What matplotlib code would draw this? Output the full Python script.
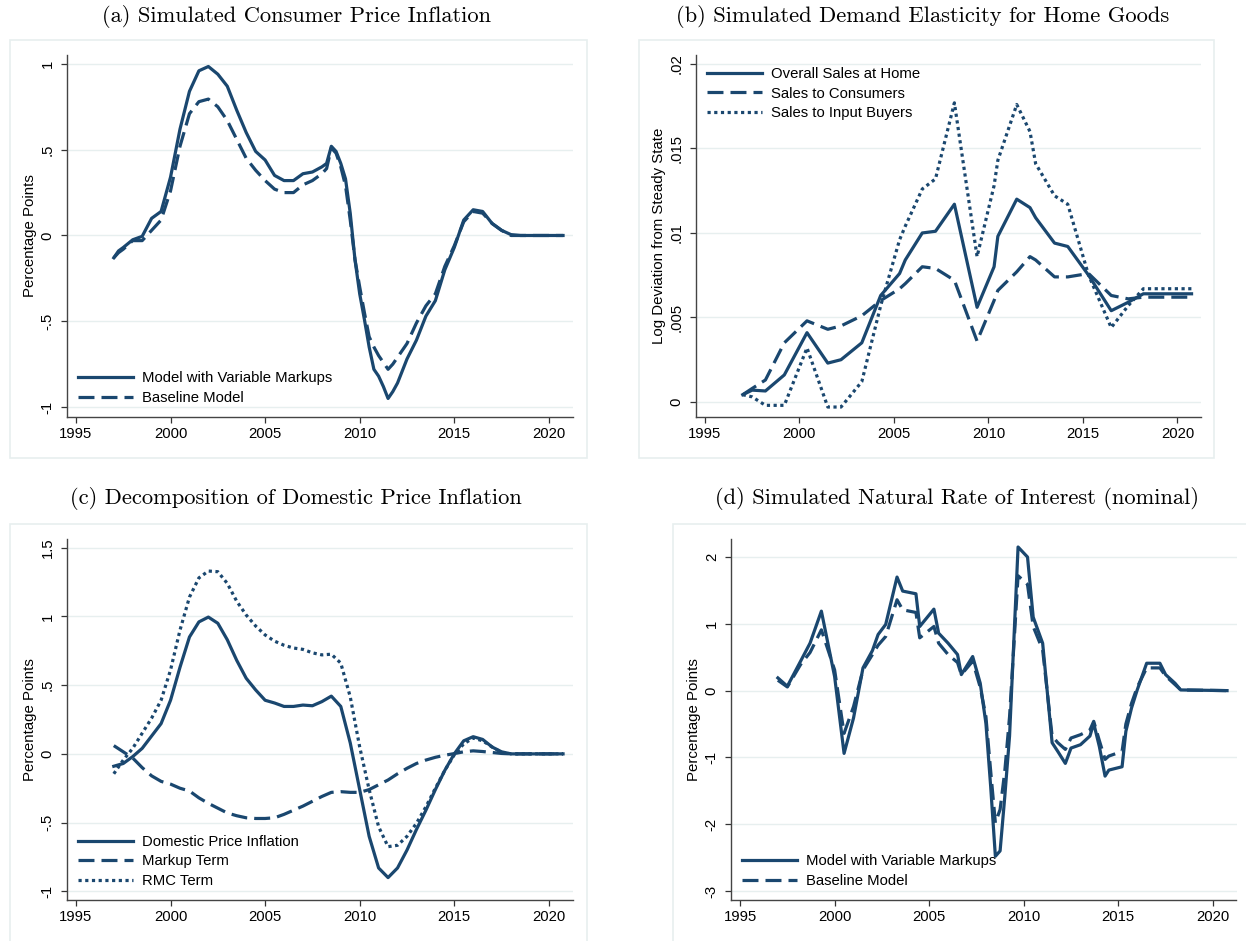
import matplotlib
matplotlib.use("Agg")
import matplotlib.pyplot as plt
from matplotlib.patches import Rectangle
import numpy as np

plt.rcParams["font.family"] = ["Liberation Sans", "DejaVu Sans"]

# ---- data ----
yrs_a = [1997, 1997.25, 1997.5, 1998, 1998.5, 1999, 1999.5,
         2000, 2000.5, 2001, 2001.5, 2002, 2002.5, 2003, 2003.5, 2004, 2004.5,
         2005, 2005.5, 2006, 2006.5, 2007, 2007.5, 2008,
         2008.25, 2008.5, 2008.75, 2009, 2009.25, 2009.5, 2009.75, 2010,
         2010.25, 2010.5, 2010.75, 2011, 2011.25, 2011.5, 2011.75, 2012,
         2012.5, 2013, 2013.5, 2014, 2014.5, 2015, 2015.5, 2016, 2016.5, 2017, 2017.5, 2018,
         2018.5, 2019, 2020, 2020.75]
cpi_markups = [-0.13, -0.09, -0.07, -0.025, -0.005, 0.10, 0.14,
               0.34, 0.62, 0.84, 0.96, 0.985, 0.94, 0.87, 0.73, 0.60, 0.49,
               0.44, 0.35, 0.32, 0.32, 0.36, 0.37, 0.40,
               0.42, 0.52, 0.49, 0.42, 0.33, 0.13, -0.14, -0.34,
               -0.49, -0.65, -0.78, -0.82, -0.88, -0.95, -0.91, -0.86,
               -0.72, -0.61, -0.47, -0.38, -0.20, -0.07, 0.09, 0.15, 0.14, 0.07, 0.03, 0.005,
               0.0, 0.0, 0.0, 0.0]
cpi_baseline = [-0.13, -0.10, -0.08, -0.03, -0.03, 0.03, 0.09,
                0.26, 0.52, 0.71, 0.78, 0.795, 0.75, 0.67, 0.56, 0.45, 0.38,
                0.32, 0.27, 0.25, 0.25, 0.295, 0.32, 0.36,
                0.39, 0.51, 0.48, 0.40, 0.29, 0.09, -0.14, -0.30,
                -0.45, -0.59, -0.65, -0.70, -0.74, -0.78, -0.75, -0.71,
                -0.63, -0.51, -0.41, -0.34, -0.18, -0.06, 0.08, 0.14, 0.13, 0.07, 0.03, 0.0,
                0.0, 0.0, 0.0, 0.0]

yrs_b = [1997, 1997.5, 1998.2, 1999.2, 2000.4, 2001.5, 2002.2, 2003.3, 2004.3,
         2005.3, 2005.6, 2006.5, 2007.2, 2008.2, 2009.4, 2010.3, 2010.5, 2011.5,
         2012.2, 2012.5, 2013.5, 2014.2, 2015.3, 2016.5, 2017.4, 2018.2, 2020.75]
elas_overall = [0.00043, 0.0007, 0.00065, 0.0016, 0.0041, 0.0023, 0.0025, 0.0035, 0.0063,
                0.0076, 0.0084, 0.0100, 0.0101, 0.0117, 0.0056, 0.0080, 0.0098, 0.0120,
                0.0115, 0.0109, 0.0094, 0.0092, 0.0075, 0.0054, 0.0059, 0.0064, 0.0064]
elas_consumers = [0.00043, 0.0008, 0.0013, 0.0035, 0.0048, 0.0043, 0.0045, 0.0051, 0.0060,
                  0.0067, 0.0070, 0.0080, 0.0079, 0.0072, 0.0036, 0.0060, 0.0066, 0.0077,
                  0.0086, 0.0084, 0.0074, 0.0074, 0.0076, 0.0063, 0.0061, 0.0062, 0.0062]
elas_inputs = [0.00043, 0.0003, -0.0002, -0.0002, 0.0032, -0.0003, -0.0003, 0.0012, 0.0057,
               0.0096, 0.0104, 0.0126, 0.0132, 0.0177, 0.0086, 0.0128, 0.0143, 0.0176,
               0.0160, 0.0141, 0.0122, 0.0117, 0.0075, 0.0044, 0.0057, 0.0067, 0.0067]

yrs_c = list(np.arange(1997, 2018.01, 0.5)) + [2019, 2020, 2020.75]
dom_infl = [-0.09, -0.07, -0.02, 0.04, 0.13, 0.22,
            0.39, 0.63, 0.85, 0.96, 0.995, 0.95, 0.83, 0.68, 0.55, 0.465,
            0.39, 0.37, 0.345, 0.345, 0.355, 0.35, 0.38, 0.42, 0.345, 0.08,
            -0.26, -0.60, -0.83, -0.90, -0.83, -0.70, -0.55, -0.41, -0.26, -0.12,
            0.0, 0.095, 0.125, 0.105, 0.05, 0.015, 0.0, 0.0, 0.0, 0.0]
markup_term = [0.06, 0.015, -0.03, -0.10, -0.16, -0.20,
               -0.22, -0.25, -0.27, -0.32, -0.36, -0.395, -0.43, -0.45, -0.465, -0.47,
               -0.47, -0.465, -0.44, -0.41, -0.38, -0.345, -0.31, -0.28, -0.275, -0.28,
               -0.28, -0.26, -0.225, -0.19, -0.145, -0.105, -0.07, -0.045, -0.025, -0.01,
               0.002, 0.015, 0.022, 0.017, 0.01, 0.003, 0.0, 0.0, 0.0, 0.0]
rmc_term = [-0.145, -0.045, 0.04, 0.15, 0.26, 0.39,
            0.61, 0.90, 1.14, 1.28, 1.33, 1.325, 1.24, 1.11, 1.01, 0.93,
            0.865, 0.82, 0.79, 0.77, 0.76, 0.735, 0.72, 0.725, 0.66, 0.415,
            0.05, -0.26, -0.53, -0.675, -0.665, -0.60, -0.505, -0.385, -0.25, -0.12,
            -0.007, 0.073, 0.115, 0.095, 0.05, 0.01, 0.0, 0.0, 0.0, 0.0]

yrs_d = [1997, 1997.5, 1998.2, 1998.7, 1999.3, 2000, 2000.5, 2001, 2001.5, 2002,
         2002.3, 2002.7, 2003.3, 2003.6, 2004.3, 2004.5, 2005.25, 2005.5, 2006, 2006.5,
         2006.7, 2007.3, 2007.7, 2008, 2008.25, 2008.5, 2008.75, 2009, 2009.25, 2009.7,
         2010.2, 2010.5, 2011, 2011.5, 2011.8, 2012.2, 2012.5, 2013, 2013.5, 2013.7,
         2014, 2014.3, 2014.5, 2015.2, 2015.4, 2015.7, 2016, 2016.5, 2017.2, 2017.5,
         2018, 2018.3, 2020.75]
rate_markups = [0.19, 0.065, 0.44, 0.71, 1.19, 0.21, -0.94, -0.41, 0.34, 0.60,
                0.84, 0.99, 1.70, 1.49, 1.45, 0.96, 1.22, 0.86, 0.71, 0.54,
                0.24, 0.51, 0.11, -0.49, -1.43, -2.48, -2.40, -1.58, -0.68, 2.15,
                2.00, 1.10, 0.71, -0.78, -0.91, -1.09, -0.86, -0.81, -0.68, -0.49,
                -0.84, -1.28, -1.19, -1.14, -0.61, -0.26, 0.01, 0.41, 0.41, 0.24,
                0.11, 0.01, 0.0]
rate_baseline = [0.155, 0.055, 0.39, 0.57, 0.91, 0.31, -0.64, -0.24, 0.31, 0.54,
                 0.68, 0.81, 1.36, 1.21, 1.17, 0.79, 0.96, 0.71, 0.54, 0.42,
                 0.24, 0.44, 0.05, -0.39, -1.20, -1.98, -1.78, -1.20, -0.39, 1.72,
                 1.59, 0.96, 0.61, -0.68, -0.78, -0.88, -0.71, -0.66, -0.59, -0.46,
                 -0.75, -1.03, -0.98, -0.91, -0.50, -0.19, 0.05, 0.34, 0.34, 0.22,
                 0.09, 0.01, 0.0]

NAVY = "#1a476f"
GRID = "#e7efef"
W, H = 1246, 941

fig = plt.figure(figsize=(W / 100, H / 100), dpi=100)


def box(x0, y0, x1, y1):
    r = Rectangle((x0 / W, 1 - y1 / H), (x1 - x0) / W, (y1 - y0) / H,
                  transform=fig.transFigure, fill=False, edgecolor=GRID, lw=1.2)
    fig.add_artist(r)


def make_ax(left, right, top, bottom, yticks, ylabels, ylim, ylabel, title, tx, ty):
    ax = fig.add_axes([left / W, 1 - bottom / H, (right - left) / W, (bottom - top) / H])
    ax.set_xlim(1994.5, 2021.25)
    ax.set_ylim(*ylim)
    ax.set_xticks([1995, 2000, 2005, 2010, 2015, 2020])
    ax.set_yticks(yticks)
    ax.set_yticklabels(ylabels, rotation=90, va="center")
    ax.tick_params(axis="both", direction="out", length=4.5, width=0.9,
                   colors="#333333", labelcolor="black", labelsize=10.7)
    ax.tick_params(axis="x", pad=3)
    ax.tick_params(axis="y", pad=4)
    for s in ["top", "right"]:
        ax.spines[s].set_visible(False)
    for s in ["left", "bottom"]:
        ax.spines[s].set_color("#444444")
        ax.spines[s].set_linewidth(1.0)
    ax.grid(axis="y", color=GRID, lw=1.0)
    ax.set_axisbelow(True)
    ax.set_ylabel(ylabel, fontsize=10.8, labelpad=3)
    fig.text(tx / W, 1 - ty / H, title, family="cmr10", fontsize=16.2,
             ha="center", va="center")
    return ax


def add_legend(ax, loc):
    ax.legend(loc=loc, frameon=False, fontsize=10.7, handlelength=3.7,
              handletextpad=0.6, labelspacing=0.38, borderaxespad=0.4)


dash = (0, (5, 2.2))
dot = (0, (1, 1.1))
lw = 2.3

# (a)
box(10, 40, 587, 458)
ax = make_ax(66.5, 572.5, 55, 417, [-1, -0.5, 0, 0.5, 1], ["-1", "-.5", "0", ".5", "1"],
             (-1.058, 1.052), "Percentage Points",
             "(a) Simulated Consumer Price Inflation", 296, 16)
ax.plot(yrs_a, cpi_markups, color=NAVY, lw=lw, label="Model with Variable Markups")
ax.plot(yrs_a, cpi_baseline, color=NAVY, lw=lw, ls=dash, label="Baseline Model")
add_legend(ax, "lower left")

# (b)
box(639, 40, 1214, 458)
ax = make_ax(695.5, 1201, 55, 417, [0, 0.005, 0.01, 0.015, 0.02],
             ["0", ".005", ".01", ".015", ".02"], (-0.00089, 0.02053),
             "Log Deviation from Steady State",
             "(b) Simulated Demand Elasticity for Home Goods", 923, 16)
ax.plot(yrs_b, elas_overall, color=NAVY, lw=lw, label="Overall Sales at Home")
ax.plot(yrs_b, elas_consumers, color=NAVY, lw=lw, ls=dash, label="Sales to Consumers")
ax.plot(yrs_b, elas_inputs, color=NAVY, lw=lw, ls=dot, label="Sales to Input Buyers")
add_legend(ax, "upper left")

# (c)
box(10, 524, 587, 960)
ax = make_ax(66.5, 572.5, 539, 900, [-1, -0.5, 0, 0.5, 1, 1.5],
             ["-1", "-.5", "0", ".5", "1", "1.5"], (-1.063, 1.563), "Percentage Points",
             "(c) Decomposition of Domestic Price Inflation", 296, 499)
ax.plot(yrs_c, dom_infl, color=NAVY, lw=lw, label="Domestic Price Inflation")
ax.plot(yrs_c, markup_term, color=NAVY, lw=lw, ls=dash, label="Markup Term")
ax.plot(yrs_c, rmc_term, color=NAVY, lw=lw, ls=dot, label="RMC Term")
add_legend(ax, "lower left")

# (d)
box(673, 524, 1260, 960)
ax = make_ax(730.6, 1236.5, 539, 900, [-3, -2, -1, 0, 1, 2],
             ["-3", "-2", "-1", "0", "1", "2"], (-3.135, 2.27), "Percentage Points",
             "(d) Simulated Natural Rate of Interest (nominal)", 957, 499)
ax.plot(yrs_d, rate_markups, color=NAVY, lw=lw, label="Model with Variable Markups")
ax.plot(yrs_d, rate_baseline, color=NAVY, lw=lw, ls=dash, label="Baseline Model")
add_legend(ax, "lower left")

fig.savefig("out.png", dpi=100)
